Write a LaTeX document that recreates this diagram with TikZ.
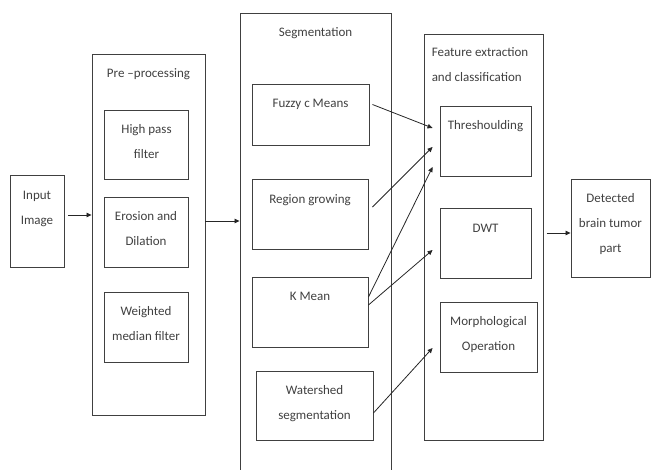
\documentclass[tikz,border=0pt]{standalone}
\usepackage{fontspec}
\setmainfont{Carlito}
\usetikzlibrary{
    arrows.meta,
    positioning
}

\begin{document}
\begin{tikzpicture}[
    x=1pt, y=-1pt,
    % plain boxes, text sits near the top
    box/.style={
        draw=black!75,
        line width=0.9pt,
        inner sep=0pt
    },
    txt/.style={
        font=\fontsize{13}{25}\selectfont,
        text=black!75,
        align=center,
        inner sep=0pt
    },
    flow/.style={
        -{Triangle[length=5pt,width=4.5pt]},
        line width=0.8pt,
        black!85
    }
]
    % page frame
    \clip (0,0) rectangle (652,470);

    % Input
    \node[box, minimum width=54, minimum height=92] (input) at (37,221) {};
    \node[txt, below=16pt of input.north] (input-t) {Input\\Image};

    % Containers of the three stages
    \node[box, minimum width=113, minimum height=361] (pre) at (148.5,234.5) {};
    \node[box, minimum width=151, minimum height=467] (seg) at (315.5,246.5) {};
    \node[box, minimum width=119, minimum height=406] (feat) at (483.5,237) {};

    \node[txt, below=15pt of pre.north] (pre-t) {Pre –processing};
    \node[txt, below=15pt of seg.north] (seg-t) {Segmentation};
    \node[txt, align=left, below right=14pt and 8pt of feat.north west] (feat-t) {Feature extraction\\and classification};

    % Pre-processing steps
    \node[box, minimum width=84, minimum height=69] (hpf) at (146.5,144.5) {};
    \node[box, minimum width=84, minimum height=70] (ero) at (146,232) {};
    \node[box, minimum width=84, minimum height=70] (wmf) at (146,327) {};
    \node[txt, below=15pt of hpf.north] (hpf-t) {High pass\\filter};
    \node[txt, below=15pt of ero.north] (ero-t) {Erosion and\\Dilation};
    \node[txt, below=15pt of wmf.north] (wmf-t) {Weighted\\median filter};

    % Segmentation methods
    \node[box, minimum width=117, minimum height=61] (fcm) at (310.5,114.5) {};
    \node[box, minimum width=116, minimum height=70] (rg) at (310,214) {};
    \node[box, minimum width=116, minimum height=70] (km) at (310,312) {};
    \node[box, minimum width=117, minimum height=69] (ws) at (314.5,405.5) {};
    \node[txt, below=15pt of fcm.north] (fcm-t) {Fuzzy c Means};
    \node[txt, below=16pt of rg.north] (rg-t) {Region growing};
    \node[txt, below=15pt of km.north] (km-t) {K Mean};
    \node[txt, below=15pt of ws.north] (ws-t) {Watershed\\segmentation};

    % Feature extraction
    \node[box, minimum width=91, minimum height=70] (thr) at (485.5,141) {};
    \node[box, minimum width=91, minimum height=70] (dwt) at (485.5,243) {};
    \node[box, minimum width=97, minimum height=70] (mor) at (488.5,337) {};
    \node[txt, below=15pt of thr.north] (thr-t) {Threshoulding};
    \node[txt, below=16pt of dwt.north] (dwt-t) {DWT};
    \node[txt, below=15pt of mor.north] (mor-t) {Morphological\\Operation};

    % Result
    \node[box, minimum width=79, minimum height=98] (det) at (610.5,228) {};
    \node[txt, below=15pt of det.north] (det-t) {Detected\\brain tumor\\part};

    % Main arrows
    \coordinate (in-out) at ([xshift=4pt,yshift=6pt]input.east);
    \coordinate (pre-out) at ([yshift=13.5pt]pre.east);
    \coordinate (feat-in) at ([xshift=-24pt,yshift=-5pt]det.west);
    \draw[flow] (in-out) -- (in-out -| pre.west);
    \draw[flow] (pre-out) -- (pre-out -| seg.west);
    \draw[flow] (feat-in) -- ([yshift=-5pt]det.west);

    % Method to feature arrows
    \draw[flow] ([xshift=3pt,yshift=10pt]fcm.east) -- ([xshift=-7pt,yshift=13pt]thr.west);
    \draw[flow] ([xshift=4pt,yshift=7pt]rg.east) -- ([xshift=-7pt,yshift=-6pt]thr.west);
    \draw[flow] ([yshift=15pt]km.east) -- ([xshift=-7pt,yshift=-26pt]thr.west);
    \draw[flow] ([yshift=7pt]km.east) -- ([xshift=-7pt,yshift=-7pt]dwt.west);
    \draw[flow] ([yshift=-7.5pt]ws.east) -- ([xshift=-7pt,yshift=-11pt]mor.west);
\end{tikzpicture}
\end{document}
